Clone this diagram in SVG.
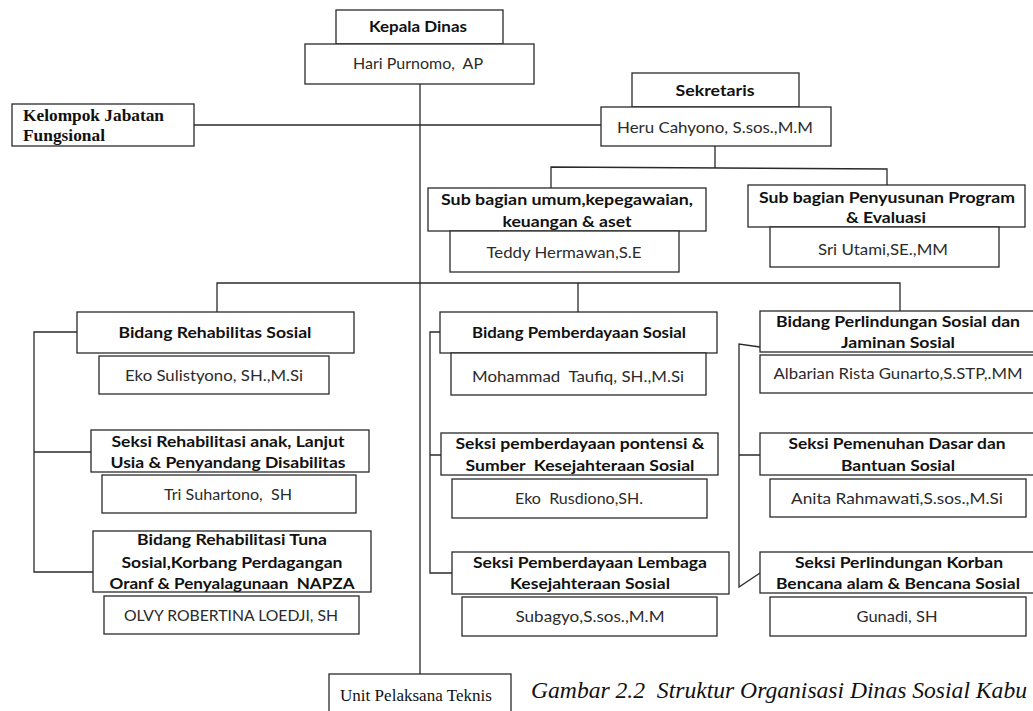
<svg xmlns="http://www.w3.org/2000/svg" width="1033" height="711" viewBox="0 0 1033 711" xml:space="preserve">
<style>
.b{fill:#fff;stroke:#2a2a2a;stroke-width:1.3}
.t{font-family:Lato,"Open Sans","Liberation Sans",sans-serif;font-size:16px;font-weight:bold;fill:#111;text-anchor:middle;white-space:pre}
.n{font-family:Lato,"Open Sans","Liberation Sans",sans-serif;font-size:16px;fill:#2b2b2b;text-anchor:middle;white-space:pre}
.s{font-family:"Liberation Serif","DejaVu Serif",serif;fill:#111;white-space:pre}
.c{fill:none;stroke:#2a2a2a;stroke-width:1.3}
</style>
<rect width="1033" height="711" fill="#fff"/>
<g id="connectors">
<path class="c" d="M420,84 V674"/>
<path class="c" d="M194,125 H601"/>
<path class="c" d="M715,146 V168 M551,188 V167 L887,169 V185"/>
<path class="c" d="M217,312 V283 H900 V311 M578,283 V312"/>
<path class="c" d="M77,332 H34 V572 H93 M34,452 H91"/>
<path class="c" d="M440,332 H430 V573 H452 M430,455 H441"/>
<path class="c" d="M760,347 L739,344 V587 L760,573 M739,455 H760"/>
</g>
<g id="kepala-dinas">
<rect class="b" x="336" y="10" width="167" height="34"/>
<text class="t" x="418" y="32" font-size="14" textLength="98" lengthAdjust="spacingAndGlyphs">Kepala Dinas</text>
<rect class="b" x="305" y="44" width="229" height="40"/>
<text class="n" x="418" y="69" font-size="14.5" textLength="130" lengthAdjust="spacingAndGlyphs">Hari Purnomo,  AP</text>
</g>
<g id="kelompok-jabatan">
<rect class="b" x="12" y="104" width="182" height="42"/>
<text class="s" x="23" y="121" font-size="17.5" font-weight="bold" textLength="141" lengthAdjust="spacingAndGlyphs">Kelompok Jabatan</text>
<text class="s" x="23" y="141" font-size="17.5" font-weight="bold" textLength="82" lengthAdjust="spacingAndGlyphs">Fungsional</text>
</g>
<g id="sekretaris">
<rect class="b" x="632" y="73" width="167" height="34"/>
<text class="t" x="715" y="96" textLength="79" lengthAdjust="spacingAndGlyphs">Sekretaris</text>
<rect class="b" x="601" y="107" width="230" height="39"/>
<text class="n" x="715" y="133" textLength="196" lengthAdjust="spacingAndGlyphs">Heru Cahyono, S.sos.,M.M</text>
</g>
<g id="subbag-umum">
<rect class="b" x="428" y="188" width="278" height="43"/>
<text class="t" x="567" y="205" textLength="252" lengthAdjust="spacingAndGlyphs">Sub bagian umum,kepegawaian,</text>
<text class="t" x="567" y="227" textLength="129" lengthAdjust="spacingAndGlyphs">keuangan &amp; aset</text>
<rect class="b" x="450" y="231" width="229" height="41"/>
<text class="n" x="564" y="258" textLength="155" lengthAdjust="spacingAndGlyphs">Teddy Hermawan,S.E</text>
</g>
<g id="subbag-program">
<rect class="b" x="748" y="185" width="277" height="42"/>
<text class="t" x="887" y="203" textLength="256" lengthAdjust="spacingAndGlyphs">Sub bagian Penyusunan Program</text>
<text class="t" x="886" y="223" textLength="80" lengthAdjust="spacingAndGlyphs">&amp; Evaluasi</text>
<rect class="b" x="770" y="227" width="229" height="40"/>
<text class="n" x="883" y="255" textLength="130" lengthAdjust="spacingAndGlyphs">Sri Utami,SE.,MM</text>
</g>
<g id="bidang-rehabilitas">
<rect class="b" x="77" y="312" width="277" height="41"/>
<text class="t" x="215" y="338" textLength="193" lengthAdjust="spacingAndGlyphs">Bidang Rehabilitas Sosial</text>
<rect class="b" x="99" y="356" width="230" height="38"/>
<text class="n" x="214" y="381" textLength="178" lengthAdjust="spacingAndGlyphs">Eko Sulistyono, SH.,M.Si</text>
</g>
<g id="seksi-rehab-anak">
<rect class="b" x="91" y="430" width="278" height="42"/>
<text class="t" x="228" y="447" textLength="233" lengthAdjust="spacingAndGlyphs">Seksi Rehabilitasi anak, Lanjut</text>
<text class="t" x="228" y="468" textLength="235" lengthAdjust="spacingAndGlyphs">Usia &amp; Penyandang Disabilitas</text>
<rect class="b" x="102" y="475" width="254" height="38"/>
<text class="n" x="228" y="500" textLength="128" lengthAdjust="spacingAndGlyphs">Tri Suhartono,  SH</text>
</g>
<g id="bidang-rehab-tuna">
<rect class="b" x="93" y="531" width="278" height="61"/>
<text class="t" x="232" y="545" textLength="190" lengthAdjust="spacingAndGlyphs">Bidang Rehabilitasi Tuna</text>
<text class="t" x="232" y="568" textLength="221" lengthAdjust="spacingAndGlyphs">Sosial,Korbang Perdagangan</text>
<text class="t" x="232" y="589" textLength="245" lengthAdjust="spacingAndGlyphs">Oranf &amp; Penyalagunaan  NAPZA</text>
<rect class="b" x="104" y="596" width="255" height="38"/>
<text class="n" x="231" y="621" textLength="214" lengthAdjust="spacingAndGlyphs">OLVY ROBERTINA LOEDJI, SH</text>
</g>
<g id="bidang-pemberdayaan">
<rect class="b" x="440" y="312" width="277" height="41"/>
<text class="t" x="579" y="338" textLength="214" lengthAdjust="spacingAndGlyphs">Bidang Pemberdayaan Sosial</text>
<rect class="b" x="451" y="353" width="255" height="42"/>
<text class="n" x="578" y="382" textLength="212" lengthAdjust="spacingAndGlyphs">Mohammad  Taufiq, SH.,M.Si</text>
</g>
<g id="seksi-potensi">
<rect class="b" x="441" y="433" width="277" height="42"/>
<text class="t" x="580" y="449" textLength="249" lengthAdjust="spacingAndGlyphs">Seksi pemberdayaan pontensi &amp;</text>
<text class="t" x="580" y="471" textLength="229" lengthAdjust="spacingAndGlyphs">Sumber  Kesejahteraan Sosial</text>
<rect class="b" x="452" y="479" width="255" height="39"/>
<text class="n" x="579" y="504" textLength="128" lengthAdjust="spacingAndGlyphs">Eko  Rusdiono,SH.</text>
</g>
<g id="seksi-lembaga">
<rect class="b" x="452" y="552" width="277" height="42"/>
<text class="t" x="590" y="568" textLength="234" lengthAdjust="spacingAndGlyphs">Seksi Pemberdayaan Lembaga</text>
<text class="t" x="590" y="589" textLength="160" lengthAdjust="spacingAndGlyphs">Kesejahteraan Sosial</text>
<rect class="b" x="462" y="597" width="255" height="39"/>
<text class="n" x="590" y="622" textLength="149" lengthAdjust="spacingAndGlyphs">Subagyo,S.sos.,M.M</text>
</g>
<g id="bidang-perlindungan">
<rect class="b" x="760" y="311" width="280" height="41"/>
<text class="t" x="898" y="327" textLength="244" lengthAdjust="spacingAndGlyphs">Bidang Perlindungan Sosial dan</text>
<text class="t" x="898" y="348" textLength="114" lengthAdjust="spacingAndGlyphs">Jaminan Sosial</text>
<rect class="b" x="760" y="355" width="280" height="38"/>
<text class="n" x="898" y="379" textLength="249" lengthAdjust="spacingAndGlyphs">Albarian Rista Gunarto,S.STP,.MM</text>
</g>
<g id="seksi-pemenuhan">
<rect class="b" x="760" y="433" width="280" height="42"/>
<text class="t" x="897" y="449" textLength="217" lengthAdjust="spacingAndGlyphs">Seksi Pemenuhan Dasar dan</text>
<text class="t" x="898" y="471" textLength="114" lengthAdjust="spacingAndGlyphs">Bantuan Sosial</text>
<rect class="b" x="770" y="479" width="256" height="38"/>
<text class="n" x="897" y="504" textLength="212" lengthAdjust="spacingAndGlyphs">Anita Rahmawati,S.sos.,M.Si</text>
</g>
<g id="seksi-korban">
<rect class="b" x="760" y="552" width="280" height="41"/>
<text class="t" x="899" y="568" textLength="208" lengthAdjust="spacingAndGlyphs">Seksi Perlindungan Korban</text>
<text class="t" x="898" y="589" textLength="244" lengthAdjust="spacingAndGlyphs">Bencana alam &amp; Bencana Sosial</text>
<rect class="b" x="770" y="597" width="256" height="39"/>
<text class="n" x="897" y="622" textLength="81" lengthAdjust="spacingAndGlyphs">Gunadi, SH</text>
</g>
<g id="unit-pelaksana">
<rect class="b" x="329" y="674" width="182" height="50"/>
<text class="s" x="340" y="701" font-size="16.5" textLength="152" lengthAdjust="spacingAndGlyphs">Unit Pelaksana Teknis</text>
</g>
<text class="s" x="531" y="698" font-size="23" font-style="italic" fill="#222" textLength="496" lengthAdjust="spacingAndGlyphs">Gambar 2.2  Struktur Organisasi Dinas Sosial Kabu</text>
</svg>
